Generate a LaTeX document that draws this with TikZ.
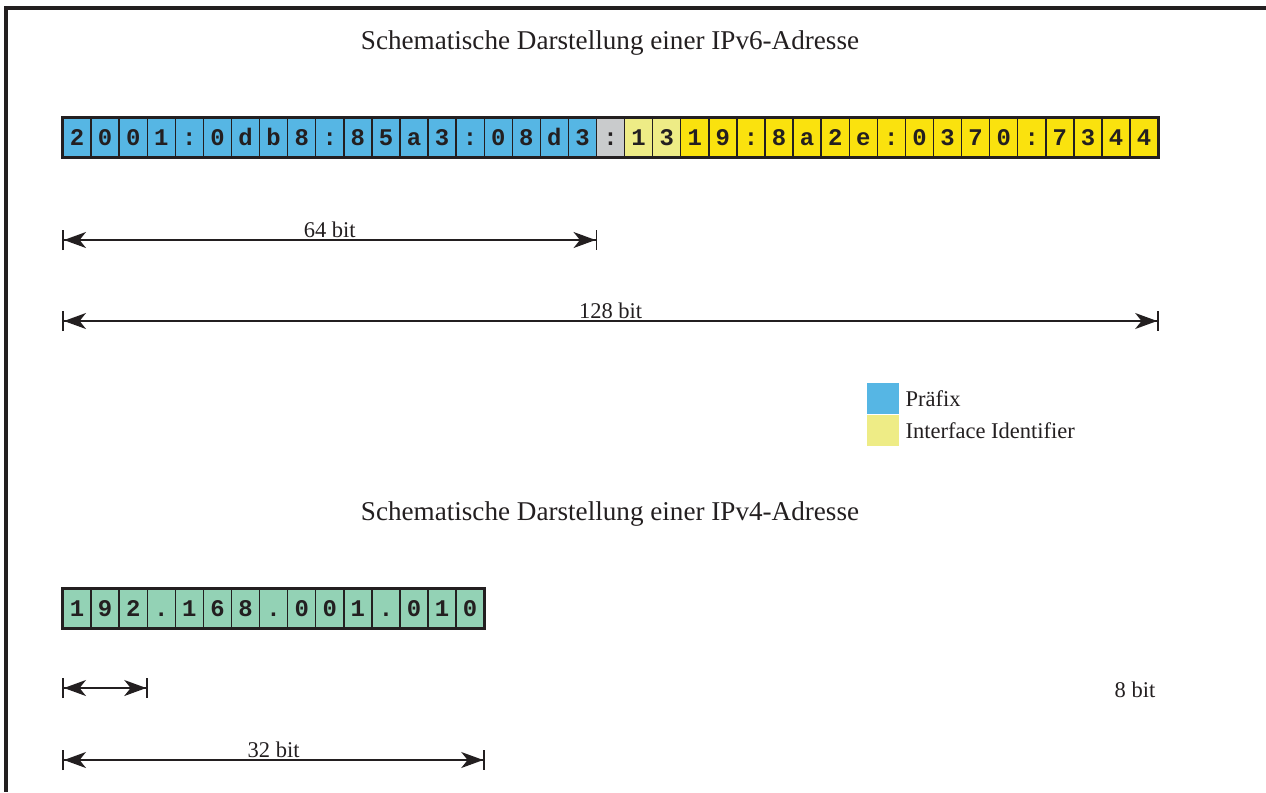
\documentclass[tikz,border=0pt]{standalone}
\usepackage{fontspec}
\setmainfont{Liberation Serif}
\setmonofont{Liberation Mono}
\usetikzlibrary{arrows.meta,positioning}

\definecolor{ink}{HTML}{231F20}
\definecolor{pfxblue}{HTML}{56B6E4}
\definecolor{iidyellow}{HTML}{FAE20E}
\definecolor{iidlight}{HTML}{EEEC86}
\definecolor{sepgray}{HTML}{C9CBCC}
\definecolor{vfourgreen}{HTML}{93D2B5}

\begin{document}
\begin{tikzpicture}[
        x=0.025cm, y=-0.025cm,
        cell/.style={draw=ink, line width=1pt, fill=#1, minimum width=0.702cm, minimum height=0.975cm,
            inner sep=0pt, text height=11.5pt, text depth=0pt, text=ink,
            font=\ttfamily\bfseries\fontsize{17}{20}\selectfont},
        outline/.style={draw=ink, line width=2.2pt},
        title/.style={text=ink, font=\fontsize{19.3}{23}\selectfont},
        dimlabel/.style={text=ink, font=\fontsize{16}{19}\selectfont, inner sep=1pt},
        dimline/.style={draw=ink, line width=1pt,
            arrows={Bar[width=0.5cm,line width=1.2pt]Stealth[length=0.55cm,width=0.4cm,inset=0.16cm]-Stealth[length=0.55cm,width=0.4cm,inset=0.16cm]Bar[width=0.5cm,line width=1.2pt]}},
        legbox/.style={fill=#1, minimum size=0.79cm, inner sep=0pt},
        legtext/.style={text=ink, font=\fontsize{16}{19}\selectfont, inner sep=1pt}
    ]
 \useasboundingbox (0,0) rectangle (1266,792);

 % frame
 \draw[ink, line width=2.2pt] (1266,8) -- (6,8) -- (6,792);

 % IPv6
 \node[title] (v6title) at (610,43) {Schematische Darstellung einer IPv6-Adresse};
 \foreach \ch [count=\i] in {2,0,0,1,:,0,d,b,8,:,8,5,a,3,:,0,8,d,3,:,1,3,1,9,:,8,a,2,e,:,0,3,7,0,:,7,3,4,4} {
     \ifnum\i<20 \def\col{pfxblue}\else
     \ifnum\i=20 \def\col{sepgray}\else
     \ifnum\i<23 \def\col{iidlight}\else \def\col{iidyellow}\fi\fi\fi
     \node[cell=\col] (v6c\i) at ({63+(\i-0.5)*28.08},137.5) {\ch};
 }
 \draw[outline] (v6c1.north west) rectangle (v6c39.south east);

 \coordinate (d64l) at (v6c1.west |- 0,240);
 \coordinate (d64r) at (v6c19.east |- 0,240);
 \coordinate (d128l) at (v6c1.west |- 0,321);
 \coordinate (d128r) at (v6c39.east |- 0,321);
 \draw[dimline] (d64l) -- node[dimlabel, above] {64 bit} (d64r);
 \draw[dimline] (d128l) -- node[dimlabel, above] {128 bit} (d128r);

 % legend
 \node[legbox=pfxblue] (legpfx) at (883,398.5) {};
 \node[legbox=iidlight, below=0pt of legpfx] (legiid) {};
 \node[legtext, right=0.12cm of legpfx] {Präfix};
 \node[legtext, right=0.12cm of legiid] {Interface Identifier};

 % IPv4
 \node[title] (v4title) at (610,514) {Schematische Darstellung einer IPv4-Adresse};
 \foreach \ch [count=\i] in {1,9,2,.,1,6,8,.,0,0,1,.,0,1,0} {
     \node[cell=vfourgreen] (v4c\i) at ({63+(\i-0.5)*28.08},608.5) {\ch};
 }
 \draw[outline] (v4c1.north west) rectangle (v4c15.south east);

 \coordinate (d8l) at (v4c1.west |- 0,688);
 \coordinate (d8r) at (v4c3.east |- 0,688);
 \coordinate (d32l) at (v4c1.west |- 0,760);
 \coordinate (d32r) at (v4c15.east |- 0,760);
 \draw[dimline] (d8l) -- (d8r);
 \node[dimlabel] (lab8) at (1135,690) {8 bit};
 \draw[dimline] (d32l) -- node[dimlabel, above] {32 bit} (d32r);
\end{tikzpicture}
\end{document}
